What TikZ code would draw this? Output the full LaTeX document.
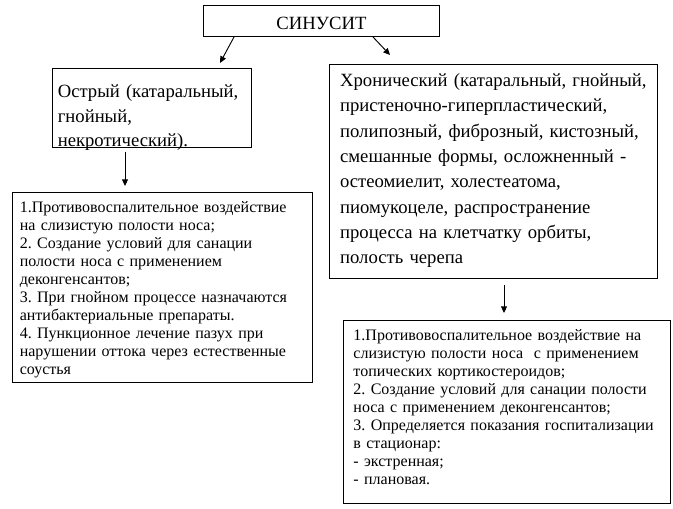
\documentclass[tikz,border=0pt]{standalone}
\usepackage{fontspec}
\setmainfont{Liberation Serif}
\usetikzlibrary{arrows.meta}
\frenchspacing

\begin{document}
\begin{tikzpicture}[x=0.75pt, y=-0.75pt,
    box/.style={draw=black, line width=0.7pt, anchor=north west, align=left, inner ysep=0pt},
    big/.style={font=\fontsize{14}{19}\selectfont},
    small/.style={font=\fontsize{12}{13.5}\selectfont},
    arr/.style={-{Triangle[length=5pt,width=4.5pt]}, line width=0.7pt}]
    \useasboundingbox (0,0) rectangle (673,509);

    \node[box, big, align=center, inner xsep=0pt, text width=177pt, text height=18pt, text depth=5.25pt] at (203,5) (sinus) {СИНУСИТ};

    \node[box, font=\fontsize{14}{18.5}\selectfont, inner xsep=4pt, text width=141.25pt, text height=21.75pt, text depth=37.5pt] at (52,68) (acute)
        {Острый (катаральный,\\ гнойный,\\ некротический).};
    \node[box, big, inner xsep=8pt, text width=230pt, text height=16.5pt, text depth=144pt] at (329,64) (chronic)
        {Хронический (катаральный, гнойный,\\ пристеночно-гиперпластический,\\
         полипозный, фиброзный, кистозный,\\ смешанные формы, осложненный -\\
         остеомиелит, холестеатома,\\ пиомукоцеле, распространение\\
         процесса на клетчатку орбиты,\\ полость черепа};

    \node[box, small, inner xsep=5.5pt, text width=214pt, text height=15pt, text depth=127.5pt] at (12,192) (acutecare)
        {1.Противовоспалительное воздействие\\ на слизистую полости носа;\\
         2. Создание условий для санации\\ полости носа с применением\\ деконгенсантов;\\
         3. При гнойном процессе назначаются\\ антибактериальные препараты.\\
         4. Пункционное лечение пазух при\\ нарушении оттока через естественные\\ соустья};
    \node[box, small, inner xsep=7.5pt, text width=230pt, text height=15pt, text depth=122.25pt] at (343,320) (chroniccare)
        {1.Противовоспалительное воздействие на\\ слизистую полости носа\ \ с применением\\
         топических кортикостероидов;\\ 2. Создание условий для санации полости\\
         носа с применением деконгенсантов;\\ 3. Определяется показания госпитализации\\
         в стационар:\\ - экстренная;\\ - плановая.};

    \coordinate (s1) at (234,37);
    \coordinate (a1) at (220,63);
    \coordinate (s2) at (373,37);
    \coordinate (c1) at (390,55);
    \coordinate (a2) at (125,152);
    \coordinate (a3) at (125,186);
    \coordinate (c2) at (504,285);
    \coordinate (c3) at (504,313);
    \draw[arr] (s1) -- (a1);
    \draw[arr] (s2) -- (c1);
    \draw[arr] (a2) -- (a3);
    \draw[arr] (c2) -- (c3);
\end{tikzpicture}
\end{document}
